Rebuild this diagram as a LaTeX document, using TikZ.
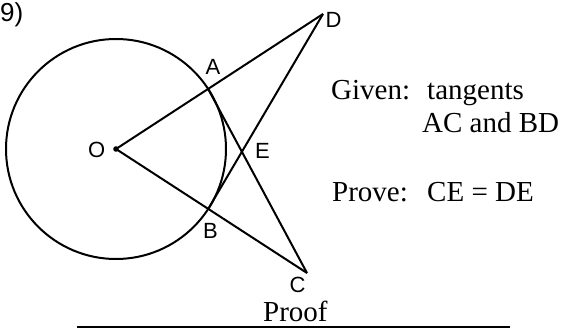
\documentclass[tikz,border=0pt]{standalone}
\usepackage{fontspec}
\setmainfont{Liberation Serif}
\newfontfamily\labelfont{Liberation Sans}
\usepackage{tikz}
\usetikzlibrary{calc}

\begin{document}
\begin{tikzpicture}[
  x=1pt,y=-1pt,
  seg/.style={line width=2pt,color=black},
  lbl/.style={inner sep=0pt,font=\labelfont\fontsize{22}{22}\selectfont},
  txt/.style={inner sep=0pt,anchor=base west,font=\fontsize{29}{33}\selectfont}
]
\useasboundingbox (0,0) rectangle (565,331);
\coordinate (O) at (116,149);
\coordinate (D) at (323,14);
\coordinate (C) at (307,273);
\coordinate (A) at ($(O)!110pt!(D)$);
\coordinate (B) at ($(O)!110pt!(C)$);
\coordinate (E) at (intersection of A--C and B--D);

\draw[seg] (O) circle[radius=110];
\foreach \s/\t in {O/D,O/C,A/C,B/D}
  \draw[seg] (\s)--(\t);
\fill (O) circle[radius=2.8];

\node[lbl,anchor=base west,font=\labelfont\fontsize{26}{26}\selectfont] (num) at (0,22) {9)};
\node[lbl] (labO) at (96.7,150) {O};
\node[lbl] (labA) at (213,66.5) {A};
\node[lbl] (labB) at (210.5,230.5) {B};
\node[lbl] (labC) at (297.5,285) {C};
\node[lbl] (labD) at (333.5,19.5) {D};
\node[lbl] (labE) at (262.5,151) {E};

\node[txt] (given) at (331,100) {Given:};
\node[txt] (tang)  at (427,100) {tangents};
\node[txt] (acbd)  at (422,132.7) {AC and BD};
\node[txt] (prove) at (332,201.7) {Prove:};
\node[txt] (cede)  at (427,201.7) {CE = DE};
\node[txt] (proof) at (263,321) {Proof};

\coordinate (rl) at (77,327);
\coordinate (rr) at (510,327);
\draw[seg] (rl) -- (rr);
\end{tikzpicture}
\end{document}
